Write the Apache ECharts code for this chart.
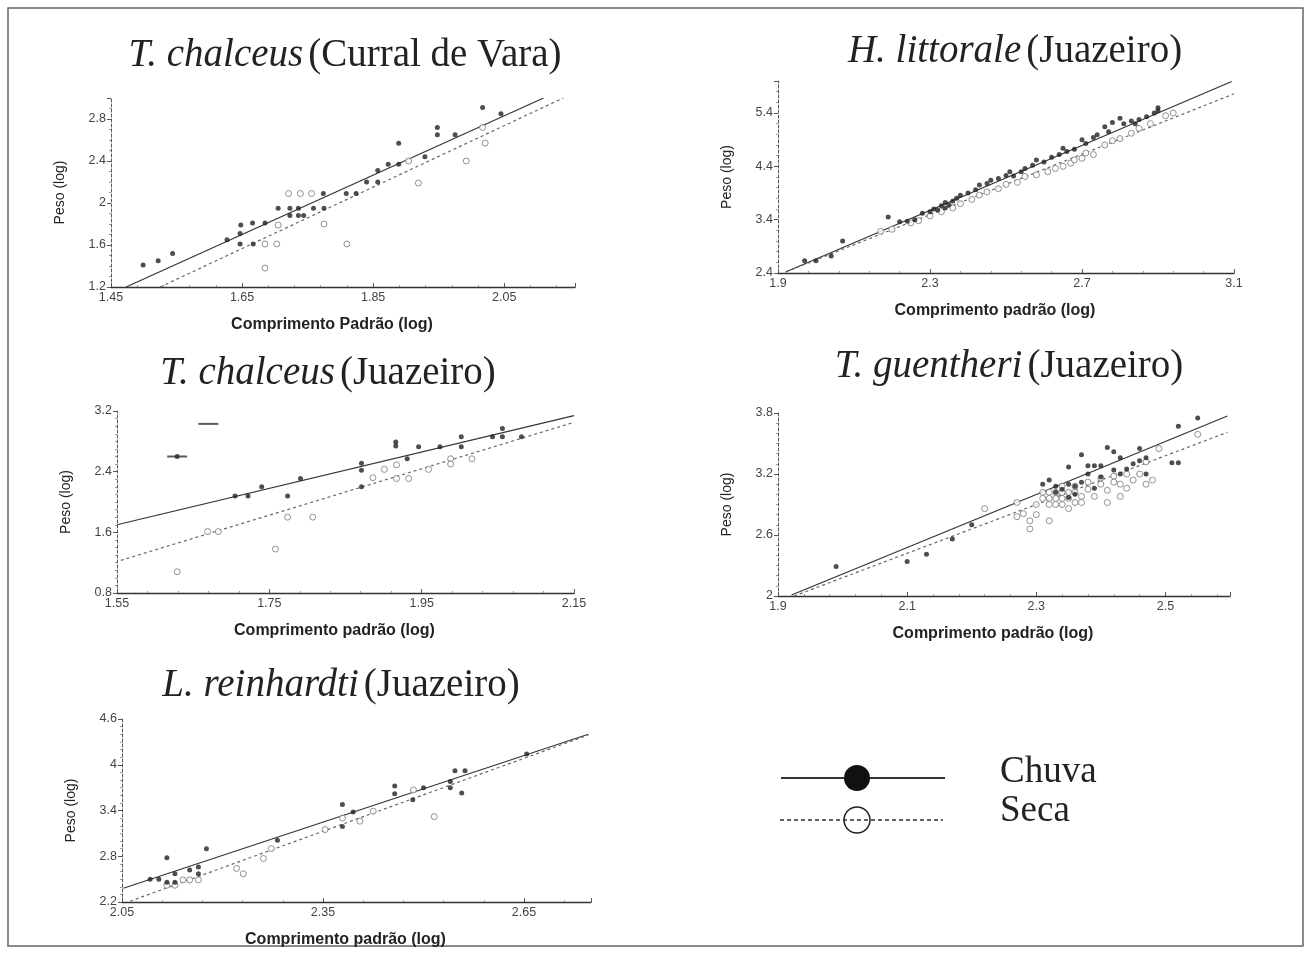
<!DOCTYPE html>
<html>
<head>
<meta charset="utf-8">
<script src="https://cdn.jsdelivr.net/npm/echarts@6/dist/echarts.min.js"></script>
<style>
  html, body { margin: 0; padding: 0; background: #fff; }
  #chart { width: 1311px; height: 953px; }
</style>
</head>
<body>
<div id="chart"></div>
<script>
// ---- Panel 1: T. chalceus (Curral de Vara) ----
const p1Chuva = [[1.499,1.41],[1.522,1.45],[1.544,1.52],[1.627,1.65],[1.647,1.71],[1.648,1.79],[1.647,1.61],
  [1.666,1.81],[1.667,1.61],[1.685,1.81],[1.705,1.95],[1.723,1.95],[1.736,1.95],[1.723,1.88],[1.736,1.88],
  [1.744,1.88],[1.759,1.95],[1.774,2.09],[1.775,1.95],[1.809,2.09],[1.824,2.09],[1.84,2.20],[1.857,2.20],
  [1.857,2.31],[1.873,2.37],[1.889,2.37],[1.889,2.57],[1.929,2.44],[1.948,2.72],[1.948,2.65],[1.975,2.65],
  [2.017,2.91],[2.045,2.85]];
const p1Seca = [[1.685,1.38],[1.685,1.61],[1.703,1.61],[1.705,1.79],[1.721,2.09],[1.739,2.09],[1.756,2.09],
  [1.775,1.80],[1.81,1.61],[1.904,2.40],[1.919,2.19],[1.992,2.40],[2.017,2.72],[2.021,2.57]];
const p1ChuvaFit = [[1.473,1.2],[2.11,3.0]];
const p1SecaFit = [[1.525,1.2],[2.14,3.0]];
const p1XTicks = ['1.45','1.65','1.85','2.05'];
const p1YTicks = ['1.2','1.6','2','2.4','2.8'];

// ---- Panel 2: H. littorale (Juazeiro) ----
const p2Chuva = [[1.97,2.63],[2.0,2.63],[2.04,2.72],[2.07,3.0],[2.19,3.45],[2.22,3.36],[2.24,3.37],[2.26,3.40],
  [2.28,3.52],[2.30,3.55],[2.31,3.60],[2.32,3.58],[2.33,3.66],[2.34,3.62],[2.34,3.72],[2.35,3.68],[2.36,3.75],
  [2.37,3.80],[2.38,3.86],[2.40,3.90],[2.42,3.96],[2.43,4.05],[2.45,4.08],[2.46,4.14],[2.48,4.17],[2.50,4.23],
  [2.51,4.30],[2.52,4.22],[2.54,4.30],[2.55,4.36],[2.57,4.42],[2.58,4.52],[2.60,4.48],[2.62,4.57],[2.64,4.62],
  [2.65,4.74],[2.66,4.68],[2.68,4.72],[2.70,4.90],[2.71,4.83],[2.73,4.94],[2.74,4.99],[2.76,5.14],[2.77,5.05],
  [2.78,5.22],[2.80,5.30],[2.81,5.20],[2.83,5.25],[2.84,5.20],[2.85,5.28],[2.87,5.33],[2.89,5.40],[2.90,5.50],
  [2.90,5.44]];
const p2Seca = [[2.17,3.18],[2.20,3.22],[2.25,3.34],[2.27,3.38],[2.30,3.47],[2.33,3.55],[2.36,3.62],[2.38,3.70],
  [2.41,3.78],[2.43,3.86],[2.45,3.92],[2.48,3.98],[2.50,4.06],[2.53,4.10],[2.55,4.21],[2.58,4.24],[2.61,4.30],
  [2.63,4.36],[2.65,4.40],[2.67,4.46],[2.68,4.52],[2.70,4.55],[2.71,4.65],[2.73,4.62],[2.76,4.80],[2.78,4.88],
  [2.80,4.92],[2.83,5.02],[2.85,5.11],[2.88,5.20],[2.92,5.35],[2.94,5.40]];
const p2ChuvaFit = [[1.92,2.42],[3.094,5.99]];
const p2SecaFit = [[1.92,2.42],[3.1,5.76]];
const p2XTicks = ['1.9','2.3','2.7','3.1'];
const p2YTicks = ['2.4','3.4','4.4','5.4'];

// ---- Panel 3: T. chalceus (Juazeiro) ----
const p3Chuva = [[1.629,2.6],[1.705,2.08],[1.722,2.08],[1.74,2.2],[1.774,2.08],[1.791,2.31],[1.871,2.51],
  [1.871,2.42],[1.871,2.2],[1.916,2.79],[1.916,2.74],[1.931,2.57],[1.946,2.73],[1.974,2.73],[2.002,2.86],
  [2.002,2.73],[2.043,2.86],[2.056,2.97],[2.056,2.86],[2.081,2.86]];
const p3Dash = [[1.629,2.6],[1.67,3.03]];
const p3Seca = [[1.629,1.08],[1.669,1.61],[1.683,1.61],[1.758,1.38],[1.774,1.8],[1.807,1.8],[1.886,2.32],
  [1.901,2.43],[1.917,2.49],[1.917,2.31],[1.933,2.31],[1.959,2.43],[1.988,2.57],[1.988,2.5],[2.016,2.57]];
const p3ChuvaFit = [[1.55,1.70],[2.15,3.14]];
const p3SecaFit = [[1.555,1.23],[2.15,3.05]];
const p3XTicks = ['1.55','1.75','1.95','2.15'];
const p3YTicks = ['0.8','1.6','2.4','3.2'];

// ---- Panel 4: T. guentheri (Juazeiro) ----
const p4Chuva = [[1.99,2.29],[2.10,2.34],[2.13,2.41],[2.17,2.56],[2.20,2.70],[2.32,3.14],[2.33,3.02],[2.34,3.05],
  [2.35,3.27],[2.35,3.10],[2.36,3.00],[2.36,3.08],[2.37,3.39],[2.37,3.12],[2.38,3.20],[2.38,3.28],[2.39,3.28],
  [2.40,3.17],[2.40,3.28],[2.41,3.46],[2.42,3.42],[2.42,3.24],[2.43,3.36],[2.43,3.20],[2.44,3.25],[2.45,3.30],
  [2.46,3.33],[2.46,3.45],[2.47,3.36],[2.47,3.20],[2.51,3.31],[2.52,3.31],[2.52,3.67],[2.55,3.75],[2.35,2.97],
  [2.33,3.08],[2.31,3.10],[2.39,3.06]];
const p4Seca = [[2.22,2.86],[2.27,2.92],[2.28,2.81],[2.29,2.74],[2.29,2.66],[2.30,2.90],[2.31,2.96],[2.31,3.02],
  [2.32,2.74],[2.32,2.90],[2.32,2.96],[2.32,3.02],[2.33,2.90],[2.33,2.96],[2.33,3.02],[2.34,2.90],[2.34,2.96],
  [2.34,3.02],[2.34,3.08],[2.35,2.86],[2.35,2.96],[2.35,3.02],[2.36,2.92],[2.36,3.02],[2.36,3.08],[2.37,2.92],
  [2.37,2.98],[2.38,3.05],[2.38,3.12],[2.39,2.98],[2.40,3.10],[2.40,3.16],[2.41,2.92],[2.41,3.04],[2.42,3.12],
  [2.42,3.18],[2.43,2.98],[2.43,3.10],[2.44,3.20],[2.44,3.06],[2.45,3.14],[2.46,3.20],[2.47,3.32],[2.47,3.10],
  [2.48,3.14],[2.49,3.45],[2.55,3.59],[2.27,2.78],[2.30,2.80]];
const p4ChuvaFit = [[1.921,2.01],[2.596,3.77]];
const p4SecaFit = [[1.925,2.0],[2.596,3.61]];
const p4XTicks = ['1.9','2.1','2.3','2.5'];
const p4YTicks = ['2','2.6','3.2','3.8'];

// ---- Panel 5: L. reinhardti (Juazeiro) ----
const p5Chuva = [[2.092,2.50],[2.105,2.50],[2.117,2.78],[2.117,2.46],[2.129,2.57],[2.129,2.46],[2.151,2.62],
  [2.164,2.66],[2.164,2.57],[2.176,2.90],[2.282,3.01],[2.379,3.48],[2.379,3.19],[2.395,3.38],[2.457,3.72],
  [2.457,3.62],[2.484,3.54],[2.50,3.70],[2.54,3.78],[2.547,3.92],[2.54,3.70],[2.557,3.63],[2.562,3.92],
  [2.654,4.14]];
const p5Seca = [[2.117,2.42],[2.129,2.42],[2.141,2.49],[2.151,2.49],[2.164,2.49],[2.221,2.64],[2.231,2.57],
  [2.261,2.77],[2.273,2.90],[2.353,3.15],[2.379,3.30],[2.405,3.26],[2.425,3.39],[2.485,3.67],[2.516,3.32]];
const p5ChuvaFit = [[2.052,2.38],[2.746,4.40]];
const p5SecaFit = [[2.062,2.21],[2.746,4.39]];
const p5XTicks = ['2.05','2.35','2.65'];
const p5YTicks = ['2.2','2.8','3.4','4','4.6'];

const titles = [
  { sp: 'T. chalceus', loc: '(Curral de Vara)', cx: 340, top: 31 },
  { sp: 'H. littorale', loc: '(Juazeiro)', cx: 1010, top: 27 },
  { sp: 'T. chalceus', loc: '(Juazeiro)', cx: 323, top: 349 },
  { sp: 'T. guentheri', loc: '(Juazeiro)', cx: 1004, top: 342 },
  { sp: 'L. reinhardti', loc: '(Juazeiro)', cx: 336, top: 661 }
];

const SERIF = '"Liberation Serif", "DejaVu Serif", serif';
const SANS = '"Liberation Sans", Arial, sans-serif';

// layout of each panel: grid box, axis ranges, tick step
const panels = [
  { grid: {left:111, top:98, width:464, height:189}, x:[1.45,2.158,0.2], y:[1.2,3.0,0.4], ySplit:4,
    xName:'Comprimento Padrão (log)', xTicks:p1XTicks, yTicks:p1YTicks,
    chuva:p1Chuva, seca:p1Seca, chuvaFit:p1ChuvaFit, secaFit:p1SecaFit },
  { grid: {left:778, top:81, width:456, height:192}, x:[1.9,3.1,0.4], y:[2.4,6.0,1], ySplit:5,
    xName:'Comprimento padrão (log)', xTicks:p2XTicks, yTicks:p2YTicks,
    chuva:p2Chuva, seca:p2Seca, chuvaFit:p2ChuvaFit, secaFit:p2SecaFit },
  { grid: {left:117, top:411, width:457, height:182}, x:[1.55,2.15,0.2], y:[0.8,3.2,0.8], ySplit:8,
    xName:'Comprimento padrão (log)', xTicks:p3XTicks, yTicks:p3YTicks,
    chuva:p3Chuva, seca:p3Seca, chuvaFit:p3ChuvaFit, secaFit:p3SecaFit, dash:p3Dash },
  { grid: {left:778, top:413, width:452, height:183}, x:[1.9,2.6,0.2], y:[2,3.8,0.6], ySplit:6,
    xName:'Comprimento padrão (log)', xTicks:p4XTicks, yTicks:p4YTicks,
    chuva:p4Chuva, seca:p4Seca, chuvaFit:p4ChuvaFit, secaFit:p4SecaFit },
  { grid: {left:122, top:719, width:469, height:183}, x:[2.05,2.75,0.3], y:[2.2,4.6,0.6], ySplit:6,
    xName:'Comprimento padrão (log)', xTicks:p5XTicks, yTicks:p5YTicks,
    chuva:p5Chuva, seca:p5Seca, chuvaFit:p5ChuvaFit, secaFit:p5SecaFit }
];

function tickFormatter(labels) {
  return function (v) {
    for (const s of labels) {
      if (Math.abs(parseFloat(s) - v) < 1e-6) return s;
    }
    return '';
  };
}

const grid = [], xAxis = [], yAxis = [], series = [];
panels.forEach(function (p, i) {
  grid.push(Object.assign({ containLabel: false }, p.grid));
  xAxis.push({
    type: 'value', gridIndex: i, min: p.x[0], max: p.x[1], interval: p.x[2],
    name: p.xName, nameLocation: 'middle', nameGap: 30,
    // right padding nudges the centred axis title a little to the left of the plot centre
    nameTextStyle: { fontFamily: SANS, fontSize: 16, color: '#222', fontWeight: 'bold', padding: [0, 22, 0, 0] },
    axisLine: { show: true, lineStyle: { color: '#333', width: 1.3 } },
    axisTick: { show: true, inside: true, length: 4, lineStyle: { color: '#555' } },
    minorTick: { show: true, splitNumber: 5, length: 2, lineStyle: { color: '#999' } },
    axisLabel: { fontFamily: SANS, fontSize: 12.5, color: '#444', margin: 4, showMaxLabel: true,
      formatter: tickFormatter(p.xTicks) },
    splitLine: { show: false }
  });
  yAxis.push({
    type: 'value', gridIndex: i, min: p.y[0], max: p.y[1], interval: p.y[2],
    name: 'Peso (log)', nameLocation: 'middle', nameGap: 44,
    nameTextStyle: { fontFamily: SANS, fontSize: 14, color: '#222' },
    axisLine: { show: true, lineStyle: { color: '#555', width: 1, type: [3, 2] } },
    axisTick: { show: true, inside: false, length: 4, lineStyle: { color: '#555' } },
    minorTick: { show: true, splitNumber: p.ySplit, length: 2, lineStyle: { color: '#999' } },
    axisLabel: { fontFamily: SANS, fontSize: 12.5, color: '#444', margin: 5,
      formatter: tickFormatter(p.yTicks) },
    splitLine: { show: false }
  });
  series.push({
    type: 'line', xAxisIndex: i, yAxisIndex: i, data: p.chuvaFit, symbol: 'none',
    lineStyle: { color: '#333', width: 1.2 }, silent: true, z: 2
  });
  series.push({
    type: 'line', xAxisIndex: i, yAxisIndex: i, data: p.secaFit, symbol: 'none',
    lineStyle: { color: '#666', width: 1.2, type: [3, 3] }, silent: true, z: 2
  });
  series.push({
    type: 'scatter', xAxisIndex: i, yAxisIndex: i, data: p.seca, symbol: 'circle', symbolSize: 6,
    itemStyle: { color: '#fff', borderColor: '#777', borderWidth: 1 }, z: 3
  });
  series.push({
    type: 'scatter', xAxisIndex: i, yAxisIndex: i, data: p.chuva, symbol: 'circle', symbolSize: 5,
    itemStyle: { color: '#222' }, z: 4
  });
  if (p.dash) {
    series.push({
      type: 'scatter', xAxisIndex: i, yAxisIndex: i, data: p.dash, symbol: 'rect', symbolSize: [20, 2],
      itemStyle: { color: '#333' }, z: 4
    });
  }
});

const title = titles.map(function (t) {
  return {
    text: '{i|' + t.sp + '} {r|' + t.loc + '}',
    left: t.cx, top: t.top, textAlign: 'center',
    textStyle: {
      fontWeight: 'normal',
      rich: {
        i: { fontFamily: SERIF, fontSize: 39, fontStyle: 'italic', fontWeight: 'normal', color: '#222' },
        r: { fontFamily: SERIF, fontSize: 39, fontWeight: 'normal', color: '#222' }
      }
    }
  };
});

const graphic = [
  { type: 'rect', shape: { x: 8, y: 8, width: 1295, height: 938 },
    style: { fill: 'none', stroke: '#666', lineWidth: 1.5 }, silent: true },
  { type: 'line', shape: { x1: 781, y1: 778, x2: 945, y2: 778 }, style: { stroke: '#333', lineWidth: 2 } },
  { type: 'circle', shape: { cx: 857, cy: 778, r: 13 }, style: { fill: '#111' } },
  { type: 'line', shape: { x1: 780, y1: 820, x2: 943, y2: 820 },
    style: { stroke: '#333', lineWidth: 1.3, lineDash: [4, 3] } },
  { type: 'circle', shape: { cx: 857, cy: 820, r: 13 }, style: { fill: 'none', stroke: '#222', lineWidth: 1.5 } },
  { type: 'text', left: 1000, top: 754, style: { text: 'Chuva', font: '37px "Liberation Serif", serif', fill: '#222' } },
  { type: 'text', left: 1000, top: 793, style: { text: 'Seca', font: '37px "Liberation Serif", serif', fill: '#222' } }
];

const chart = echarts.init(document.getElementById('chart'), null, { renderer: 'canvas' });
chart.setOption({
  backgroundColor: '#fff',
  animation: false,
  title: title,
  grid: grid,
  xAxis: xAxis,
  yAxis: yAxis,
  series: series,
  graphic: graphic
});
</script>
</body>
</html>
